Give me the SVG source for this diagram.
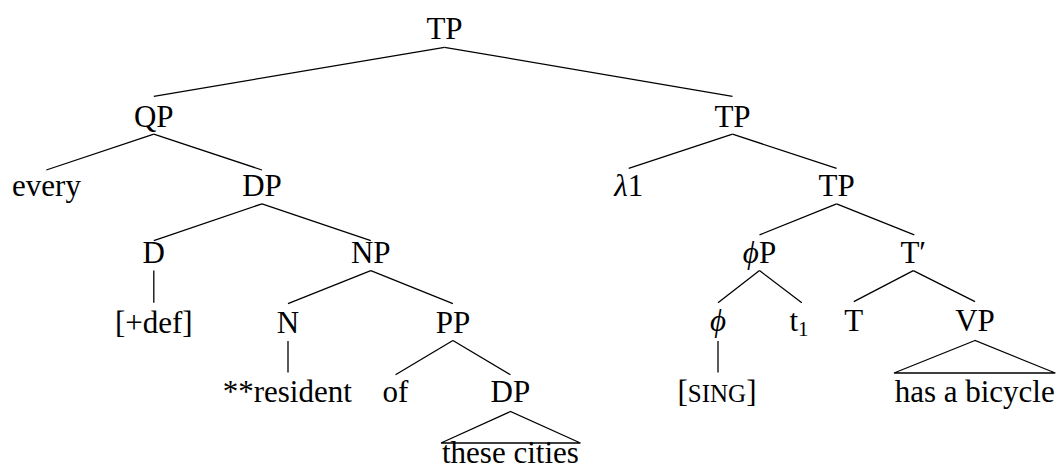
<svg xmlns="http://www.w3.org/2000/svg" width="1058" height="470" viewBox="0 0 1058 470">
<style>
text{font-family:"Liberation Serif","Times New Roman",serif;font-size:31px;fill:#000;text-anchor:middle}
.it{font-style:italic}
.sc{font-size:25px}
.sub{font-size:21px}
#connectors line,#connectors polygon{stroke:#000;stroke-width:1.3;fill:none}
</style>
<rect width="1058" height="470" fill="#fff"/>
<g id="connectors">
<line x1="444.5" y1="47.3" x2="153.8" y2="96.3"/>
<line x1="444.5" y1="47.3" x2="732.5" y2="96.3"/>
<line x1="153.8" y1="134.2" x2="46.3" y2="170"/>
<line x1="153.8" y1="134.2" x2="262" y2="170"/>
<line x1="262" y1="203.8" x2="153.8" y2="240.7"/>
<line x1="262" y1="203.8" x2="370.8" y2="240.7"/>
<line x1="153.8" y1="270.6" x2="153.8" y2="302.7"/>
<line x1="370.8" y1="270.6" x2="288" y2="303.7"/>
<line x1="370.8" y1="270.6" x2="452.9" y2="303.7"/>
<line x1="288" y1="340.9" x2="288" y2="372.6"/>
<line x1="452.9" y1="340.5" x2="395.5" y2="374.7"/>
<line x1="452.9" y1="340.5" x2="510.4" y2="374.7"/>
<polygon points="510.4,411.5 441,443 580.4,443"/>
<line x1="732.5" y1="134.2" x2="628.7" y2="168.3"/>
<line x1="732.5" y1="134.2" x2="836.6" y2="168.3"/>
<line x1="836.6" y1="203.8" x2="759.5" y2="234.9"/>
<line x1="836.6" y1="203.8" x2="914.3" y2="234.9"/>
<line x1="759.5" y1="270.6" x2="718" y2="302.7"/>
<line x1="759.5" y1="270.6" x2="801.8" y2="302.7"/>
<line x1="718" y1="340.9" x2="718" y2="372.6"/>
<line x1="913.3" y1="270.6" x2="853.8" y2="301.7"/>
<line x1="913.3" y1="270.6" x2="975" y2="301.7"/>
<polygon points="975,340.5 894,373 1055.3,373"/>
</g>
<g id="n-TP"><text x="444.5" y="38.9">TP</text></g>
<g id="n-QP"><text x="153.8" y="126.7">QP</text></g>
<g id="n-every"><text x="46.5" y="196">every</text></g>
<g id="n-DP1"><text x="262" y="196">DP</text></g>
<g id="n-D"><text x="153.8" y="263.1">D</text></g>
<g id="n-def"><text x="153.8" y="332.6">[+def]</text></g>
<g id="n-NP"><text x="370.8" y="263.1">NP</text></g>
<g id="n-N"><text x="288" y="332.6">N</text></g>
<g id="n-resident"><text x="287.3" y="402.4">**resident</text></g>
<g id="n-PP"><text x="452.9" y="332.6">PP</text></g>
<g id="n-of"><text x="395.5" y="402.4">of</text></g>
<g id="n-DP2"><text x="510.4" y="402.4">DP</text></g>
<g id="n-cities"><text x="510.4" y="463">these cities</text></g>
<g id="n-TP2"><text x="732.5" y="126.7">TP</text></g>
<g id="n-lambda"><text x="628.7" y="196"><tspan class="it">λ</tspan>1</text></g>
<g id="n-TP3"><text x="836.6" y="196">TP</text></g>
<g id="n-phiP"><text x="759.5" y="263.1"><tspan class="it">ϕ</tspan>P</text></g>
<g id="n-phi"><text x="718" y="331.4" class="it">ϕ</text></g>
<g id="n-t1"><text x="799" y="331.4">t<tspan class="sub" dy="5">1</tspan></text></g>
<g id="n-sing"><text x="717" y="402.4">[<tspan class="sc">SING</tspan>]</text></g>
<g id="n-Tbar"><text x="913.3" y="263.1">T′</text></g>
<g id="n-T"><text x="853.8" y="331.4">T</text></g>
<g id="n-VP"><text x="975" y="331.4">VP</text></g>
<g id="n-bicycle"><text x="974.7" y="402.4">has a bicycle</text></g>
</svg>
